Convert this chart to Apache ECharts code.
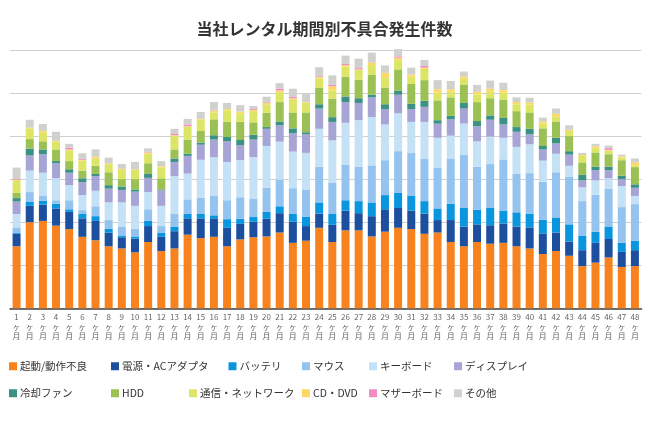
<!DOCTYPE html>
<html>
<head>
<meta charset="utf-8">
<script src="https://cdn.jsdelivr.net/npm/echarts@6/dist/echarts.min.js"></script>
<style>html,body{margin:0;padding:0;background:#fff}#c{width:649px;height:423px}</style>
</head>
<body>
<div id="c"></div>
<script>
var categories = ['1ヶ月','2ヶ月','3ヶ月','4ヶ月','5ヶ月','6ヶ月','7ヶ月','8ヶ月','9ヶ月','10ヶ月','11ヶ月','12ヶ月','13ヶ月','14ヶ月','15ヶ月','16ヶ月','17ヶ月','18ヶ月','19ヶ月','20ヶ月','21ヶ月','22ヶ月','23ヶ月','24ヶ月','25ヶ月','26ヶ月','27ヶ月','28ヶ月','29ヶ月','30ヶ月','31ヶ月','32ヶ月','33ヶ月','34ヶ月','35ヶ月','36ヶ月','37ヶ月','38ヶ月','39ヶ月','40ヶ月','41ヶ月','42ヶ月','43ヶ月','44ヶ月','45ヶ月','46ヶ月','47ヶ月','48ヶ月'];

var seriesNames = ['起動/動作不良','電源・ACアダプタ','バッテリ','マウス','キーボード','ディスプレイ','冷却ファン','HDD','通信・ネットワーク','CD・DVD','マザーボード','その他'];

var kidou = [14.4,20.0,20.3,19.2,18.4,16.6,15.8,14.4,13.9,13.0,15.4,13.3,13.9,17.1,16.3,16.6,14.4,16.0,16.5,16.7,17.6,15.2,15.7,18.7,15.4,18.1,18.1,16.7,17.8,18.7,18.4,17.3,17.6,15.4,14.4,15.4,15.0,15.2,14.4,13.9,12.6,13.3,12.2,9.8,10.6,11.8,9.6,9.8];
var dengen = [2.9,3.8,3.8,4.0,4.0,4.3,4.5,3.2,2.6,3.2,3.7,3.3,4.0,3.8,4.6,4.3,4.3,3.6,3.6,4.1,4.5,4.9,3.4,3.3,4.0,4.6,4.0,4.7,5.2,4.6,4.3,4.7,2.9,5.1,4.6,4.1,4.3,4.5,4.6,4.9,4.8,4.3,3.3,3.7,4.6,4.3,3.5,3.7];
var battery = [0.2,0.9,0.9,1.1,0.6,1.1,1.1,0.9,0.3,0.5,1.2,0.9,1.1,1.1,1.0,0.7,2.0,1.2,1.1,1.6,1.6,1.8,2.2,2.6,2.5,2.4,2.8,3.2,3.3,3.5,3.5,2.9,2.7,3.8,4.3,3.4,4.0,3.0,3.3,3.2,3.2,3.5,4.0,3.3,2.6,2.9,2.1,2.2];
var mouse = [1.3,2.3,1.2,0.8,2.1,0.8,2.3,2.0,2.2,1.8,2.7,1.6,2.9,3.3,3.8,4.6,4.4,5.0,4.3,5.6,6.2,6.0,6.2,8.3,7.2,8.3,8.0,8.6,8.1,9.7,9.9,9.9,9.4,10.5,12.3,10.0,10.2,11.9,9.0,9.4,8.8,10.5,11.0,8.1,8.6,8.8,8.3,8.5];
var keyboard = [3.1,5.0,5.3,5.1,3.5,3.5,3.6,4.1,5.6,5.3,4.0,4.7,8.8,6.0,8.8,8.9,8.9,8.6,9.6,9.7,8.8,8.5,8.6,8.8,9.9,9.7,10.8,11.2,8.3,8.8,7.2,8.5,7.0,5.3,7.3,5.9,6.4,5.0,6.2,6.7,4.9,4.3,2.6,3.2,3.3,2.4,4.9,1.9];
var display = [2.9,3.5,4.3,3.5,2.9,3.0,3.4,3.2,2.9,3.3,3.3,3.6,3.3,4.1,3.5,4.1,4.8,3.5,4.1,4.0,3.8,4.3,4.3,4.7,4.3,4.8,4.0,4.6,3.5,4.3,3.0,3.5,3.3,3.8,3.5,3.5,3.9,3.1,3.5,2.3,2.6,2.4,2.6,1.6,2.4,1.9,1.6,1.9];
var fan = [0.8,1.6,1.1,0.5,0.8,0.9,0.5,0.8,0.8,0.5,0.9,0.2,0.8,0.5,0.5,1.0,1.0,1.2,1.1,0.4,0.9,1.1,0.5,1.0,1.1,1.3,1.1,0.6,1.2,1.0,1.2,1.4,0.8,0.8,1.3,1.2,1.0,1.5,1.1,1.3,0.8,1.3,0.8,1.3,0.8,0.8,0.8,0.8];
var hdd = [1.2,2.2,1.9,2.7,1.9,1.8,1.9,3.0,1.7,2.4,2.5,2.6,2.1,3.3,2.7,3.7,3.5,4.2,2.9,3.3,4.5,3.7,4.6,3.8,4.3,4.6,4.3,4.7,3.9,4.9,4.6,4.8,4.6,4.3,4.3,4.4,4.0,4.3,3.7,3.8,4.1,3.8,3.5,2.9,3.3,2.9,3.6,4.0];
var network = [2.8,2.5,2.1,1.9,2.5,2.3,1.7,1.9,2.1,2.2,2.3,2.5,3.1,3.0,2.6,1.6,2.7,2.0,2.6,2.0,2.3,3.1,2.3,2.2,1.9,2.4,2.3,2.2,2.2,2.2,1.7,2.6,1.8,1.4,1.3,1.8,1.6,1.6,1.6,1.8,1.1,1.1,1.2,1.5,1.0,0.8,0.6,0.3];
var cddvd = [0.25,0.2,0.3,0.1,0.2,0.2,0.4,0.2,0.3,0.1,0.2,0.3,0.2,0.1,0.2,0.4,0.3,0.4,0.3,0.3,0.4,0.2,0.1,0.3,1.0,0.3,0.1,0.6,1.2,0.5,0.5,0.3,0.8,0.5,0.5,0.6,0.6,0.6,0.5,0.5,0.5,0.7,0.3,0.2,0.4,0.2,0.3,0.8];
var mother = [0.15,0,0,0,0.4,0.2,0,0,0,0,0.15,0,0.3,0.4,0,0,0,0,0.2,0.15,0.4,0.3,0,0.2,0.3,0.3,0.3,0,0,0.3,0,0.4,0,0,0,0,0,0,0,0,0,0,0,0,0,0.4,0,0];
var other = [2.7,1.8,1.6,2.1,0.9,1.3,1.7,1.3,1.1,1.7,0.8,1.2,1.2,1.3,1.6,2.0,1.4,1.5,0.7,1.3,1.3,1.9,1.9,2.1,2.2,1.9,2.2,2.3,1.7,1.7,1.6,1.4,2.1,1.9,1.2,1.6,1.9,1.7,1.1,1.1,0.9,1.2,1.0,0.5,0.6,0.6,0.4,0.9];

var colors = ['#F8831E','#1D4F9F','#0A96DE','#93C3EE','#C4E1F6','#A7A5D6','#3B9183','#9BC155','#DDE566','#FDD867','#F18DC4','#D0D0CC'];

var allData = [kidou,dengen,battery,mouse,keyboard,display,fan,hdd,network,cddvd,mother,other];

var legendPos = [
  [9,361],[111,361],[228.5,361],[302,361],[369,361],[454,361],
  [9,388],[111,388],[189,388],[302,388],[369,388],[454,388]
];

var legends = seriesNames.map(function(n,i){
  return {
    data:[n], left:legendPos[i][0], top:legendPos[i][1], padding:0,
    itemWidth:8, itemHeight:8, icon:'rect', selectedMode:false,
    textStyle:{fontSize:10.5, color:'#333', fontFamily:'"Noto Sans CJK JP", sans-serif', padding:[0,0,0,-2]}
  };
});

var series = seriesNames.map(function(n,i){
  return {
    name:n, type:'bar', stack:'total', data:allData[i], barWidth:8, clip:false,
    itemStyle:{color:colors[i]}, emphasis:{disabled:true}
  };
});

var chart = echarts.init(document.getElementById('c'), null, {renderer:'canvas'});
chart.setOption({
  animation:false,
  color:colors,
  title:{
    text:'当社レンタル期間別不具合発生件数', left:'center', top:16,
    textStyle:{fontSize:16, fontWeight:'bold', color:'#333', fontFamily:'"Noto Sans CJK JP", sans-serif'}
  },
  legend:legends,
  grid:{left:10, right:7.5, top:50, bottom:114.7},
  xAxis:{
    type:'category', data:categories,
    axisLine:{lineStyle:{color:'#444', width:1.5}},
    axisTick:{show:false},
    axisLabel:{
      interval:0, margin:4, fontSize:8, lineHeight:9.5, color:'#666',
      fontFamily:'"Noto Sans CJK JP", sans-serif',
      formatter:function(v){ return v.replace('ヶ月','\nヶ\n月'); }
    }
  },
  yAxis:{
    type:'value', min:0, max:60, interval:10,
    axisLine:{show:false}, axisTick:{show:false}, axisLabel:{show:false},
    splitLine:{lineStyle:{color:'#cfcfcf', width:1}}
  },
  series:series
});
</script>
</body>
</html>
